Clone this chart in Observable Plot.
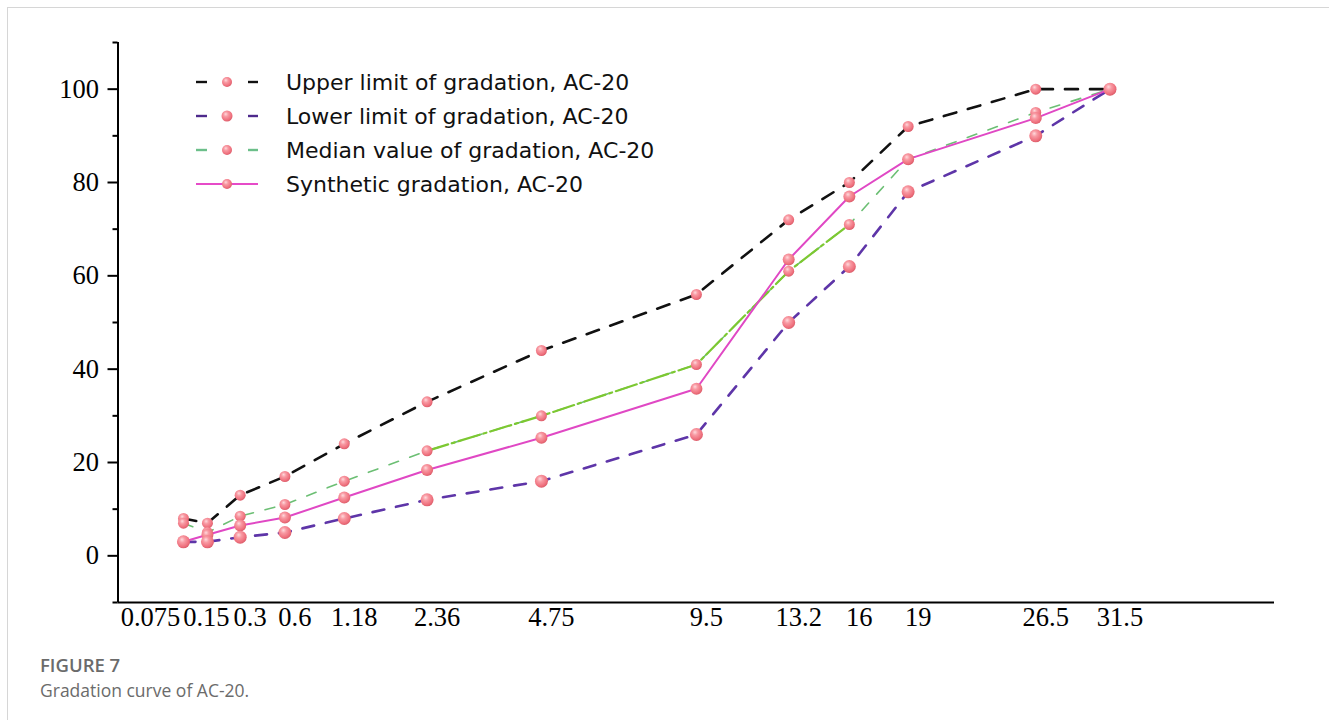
<!DOCTYPE html>
<html>
<head>
<meta charset="utf-8">
<script src="https://cdn.jsdelivr.net/npm/d3@7"></script>
<script src="https://cdn.jsdelivr.net/npm/@observablehq/plot@0.6"></script>
<style>
  html, body { margin: 0; padding: 0; background: #fff; }
  #figure { position: relative; width: 1329px; height: 720px; overflow: hidden; }
  #border { position: absolute; left: 7px; top: 7px; width: 1340px; height: 740px;
            border-top: 1px solid #d6d6d6; border-left: 1px solid #d6d6d6; }
  #chart { position: absolute; left: 0; top: 0; }
  #overlay { position: absolute; left: 0; top: 0; pointer-events: none; }
</style>
</head>
<body>
<div id="figure">
  <div id="border"></div>
  <div id="chart"></div>
  <svg id="overlay" width="1329" height="720"></svg>
</div>
<script>
// Sieve sizes (mm) and percent passing for the AC-20 gradation
const sieveSizes = [0.075, 0.15, 0.3, 0.6, 1.18, 2.36, 4.75, 9.5, 13.2, 16, 19, 26.5, 31.5];
const upperLimit = [8, 7, 13, 17, 24, 33, 44, 56, 72, 80, 92, 100, 100];
const lowerLimit = [3, 3, 4, 5, 8, 12, 16, 26, 50, 62, 78, 90, 100];
const medianValue = [7, 5, 8.5, 11, 16, 22.5, 30, 41, 61, 71, 85, 95, 100];
const syntheticGradation = [3, 4.5, 6.5, 8.2, 12.5, 18.4, 25.3, 35.8, 63.5, 77, 85, 93.8, 100];

const yMajorTicks = [0, 20, 40, 60, 80, 100];
const yMinorTicks = [-10, 10, 30, 50, 70, 90, 110];

const seriesNames = [
  "Upper limit of gradation, AC-20",
  "Lower limit of gradation, AC-20",
  "Median value of gradation, AC-20",
  "Synthetic gradation, AC-20"
];

const rows = (values) => sieveSizes.map((size, i) => ({size, pct: values[i]}));
const upperRows = rows(upperLimit);
const lowerRows = rows(lowerLimit);
const medianRows = rows(medianValue);
const synthRows = rows(syntheticGradation);
// the brighter stretch of the median curve, 2.36 mm through 16 mm
const medianBright = medianRows.filter(d => d.size >= 2.36 && d.size <= 16);

const serif = "'Liberation Serif', 'Times New Roman', serif";
const BALL = "#f27a85";
const xLabel = {tickSize: 0, tickPadding: 5, fontSize: 26.5, fontFamily: serif,
  fill: "#000", label: null, tickFormat: d => String(d)};

const chart = Plot.plot({
  width: 1329,
  height: 640,
  marginLeft: 117.5,
  marginRight: 55,
  marginTop: 42,
  marginBottom: 38,
  style: {background: "transparent", overflow: "visible"},
  x: {type: "pow", exponent: 0.45, domain: [0, 44.3], label: null},
  y: {domain: [-10, 110], label: null},
  marks: [
    // axes
    Plot.ruleX([0], {stroke: "#000", strokeWidth: 2}),
    Plot.ruleY([-10], {stroke: "#000", strokeWidth: 2}),
    Plot.axisY({ticks: yMajorTicks, tickSize: 10, tickPadding: 9, strokeWidth: 2, label: null,
      fontSize: 26.5, fontFamily: serif, fill: "#000", tickFormat: d => String(d)}),
    Plot.axisY({ticks: yMinorTicks, tickSize: 5, strokeWidth: 2, label: null, tickFormat: () => ""}),
    Plot.axisX({...xLabel, ticks: sieveSizes.slice(2), dx: 10}),
    Plot.axisX({...xLabel, ticks: sieveSizes.slice(1, 2), dx: -1}),
    Plot.axisX({...xLabel, ticks: sieveSizes.slice(0, 1), dx: -33}),

    // curves
    Plot.line(upperRows, {x: "size", y: "pct", stroke: "#111", strokeWidth: 2.6, strokeDasharray: "13,12"}),
    Plot.line(lowerRows, {x: "size", y: "pct", stroke: "#5e35a8", strokeWidth: 2.6, strokeDasharray: "12,12"}),
    Plot.line(medianRows, {x: "size", y: "pct", stroke: "#6cbf74", strokeWidth: 1.6, strokeDasharray: "10,12"}),
    Plot.line(medianBright, {x: "size", y: "pct", stroke: "#7cc832", strokeWidth: 2.2, strokeDasharray: "22,4,3,4"}),
    Plot.line(synthRows, {x: "size", y: "pct", stroke: "#e048c4", strokeWidth: 2}),

    // points
    Plot.dot(upperRows, {x: "size", y: "pct", r: 5.5, fill: BALL}),
    Plot.dot(medianRows, {x: "size", y: "pct", r: 5.5, fill: BALL}),
    Plot.dot(synthRows, {x: "size", y: "pct", r: 6, fill: BALL}),
    Plot.dot(lowerRows, {x: "size", y: "pct", r: 6.5, fill: BALL})
  ]
});

document.getElementById("chart").appendChild(chart);

// shaded sphere look for the point markers
const svgNS = "http://www.w3.org/2000/svg";
function addBallGradient(svg, id) {
  const defs = document.createElementNS(svgNS, "defs");
  defs.innerHTML = `<radialGradient id="${id}" cx="0.42" cy="0.38" r="0.62" fx="0.38" fy="0.32">
      <stop offset="0%" stop-color="#ffd9dc"/>
      <stop offset="35%" stop-color="#f89aa3"/>
      <stop offset="80%" stop-color="#ef717e"/>
      <stop offset="100%" stop-color="#dc5e6b"/>
    </radialGradient>`;
  svg.insertBefore(defs, svg.firstChild);
}
addBallGradient(chart, "ball");
chart.querySelectorAll('g[aria-label="dot"]').forEach(g => g.setAttribute("fill", "url(#ball)"));

// legend and caption
const overlay = d3.select("#overlay");
addBallGradient(overlay.node(), "ballLegend");

const legendStyles = [
  {stroke: "#111", dash: true, r: 5},
  {stroke: "#4e2a8c", dash: true, r: 5.5},
  {stroke: "#6cbf8a", dash: true, r: 5},
  {stroke: "#e64bc8", dash: false, r: 5}
];
const legendTop = 82, legendStep = 34;
seriesNames.forEach((name, i) => {
  const s = legendStyles[i];
  const y = legendTop + i * legendStep;
  const g = overlay.append("g");
  if (s.dash) {
    g.append("line").attr("x1", 196).attr("x2", 207).attr("y1", y).attr("y2", y)
      .attr("stroke", s.stroke).attr("stroke-width", 2.4);
    g.append("line").attr("x1", 248).attr("x2", 258).attr("y1", y).attr("y2", y)
      .attr("stroke", s.stroke).attr("stroke-width", 2.4);
  } else {
    g.append("line").attr("x1", 196).attr("x2", 258).attr("y1", y).attr("y2", y)
      .attr("stroke", s.stroke).attr("stroke-width", 2.2);
  }
  g.append("circle").attr("cx", 227).attr("cy", y).attr("r", s.r).attr("fill", "url(#ballLegend)");
  g.append("text").attr("x", 286).attr("y", y).attr("dy", "0.36em")
    .attr("font-family", "'DejaVu Sans', 'Noto Sans', sans-serif").attr("font-size", 22)
    .attr("fill", "#111").text(name);
});

overlay.append("text").attr("x", 40).attr("y", 672)
  .attr("font-family", "'Open Sans', 'Noto Sans', sans-serif").attr("font-size", 18.5)
  .attr("font-weight", 600).attr("fill", "#6b6b6b").text("FIGURE 7");
overlay.append("text").attr("x", 40).attr("y", 697)
  .attr("font-family", "'Open Sans', 'Noto Sans', sans-serif").attr("font-size", 17.5)
  .attr("fill", "#6b6b6b").text("Gradation curve of AC-20.");
</script>
</body>
</html>
